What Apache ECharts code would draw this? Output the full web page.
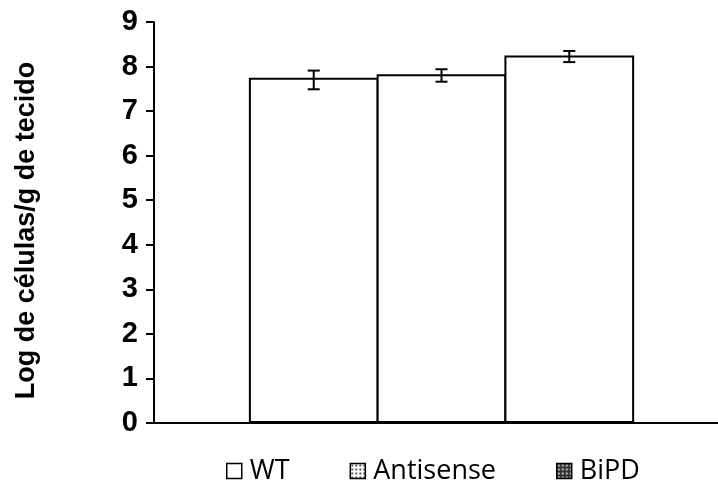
<!DOCTYPE html>
<html><head><meta charset="utf-8">
<script src="https://cdn.jsdelivr.net/npm/echarts@6/dist/echarts.min.js"></script>
<style>html,body{margin:0;padding:0;background:#fff}#c{width:718px;height:485px}</style>
</head><body><div id="c"></div>
<script>
const categories = ['Grupo'];
const seriesNames = ['WT', 'Antisense', 'BiPD'];
const values = [7.75, 7.83, 8.25];
const errLow = [7.49, 7.66, 8.10];
const errHigh = [7.91, 7.94, 8.35];
const yTicks = [0, 1, 2, 3, 4, 5, 6, 7, 8, 9];

function makePattern(bg, dot) {
  const c = document.createElement('canvas');
  c.width = 4; c.height = 4;
  const g = c.getContext('2d');
  g.fillStyle = bg; g.fillRect(0, 0, 4, 4);
  g.fillStyle = dot; g.fillRect(1, 1, 2, 2);
  return {image: c, repeat: 'repeat'};
}
const legendFills = ['#ffffff', makePattern('#ffffff', '#555555'), makePattern('#333333', '#bbbbbb')];

const CAT_GAP = 0.33, BAR_GAP = -0.015;
const chart = echarts.init(document.getElementById('c'));
const series = [];
seriesNames.forEach((n, i) => {
  series.push({
    name: n, type: 'bar', data: [values[i]],
    barCategoryGap: (CAT_GAP * 100) + '%', barGap: (BAR_GAP * 100) + '%',
    itemStyle: {color: '#ffffff', borderColor: '#000', borderWidth: 2},
    z: 2
  });
});
const errSeries = {
  type: 'custom',
  data: seriesNames.map((n, i) => [i, errLow[i], errHigh[i]]),
  renderItem: function (params, api) {
    const i = api.value(0);
    const lo = api.coord([0, api.value(1)]);
    const hi = api.coord([0, api.value(2)]);
    const band = api.size([1, 0])[0];
    const n = seriesNames.length;
    const w = band * (1 - CAT_GAP) / (n + (n - 1) * BAR_GAP);
    const x = lo[0] + (i - (n - 1) / 2) * w * (1 + BAR_GAP);
    const cap = 6;
    const st = {stroke: '#000', lineWidth: 2};
    return {type: 'group', children: [
      {type: 'line', shape: {x1: x, y1: hi[1], x2: x, y2: lo[1]}, style: st},
      {type: 'line', shape: {x1: x - cap, y1: hi[1], x2: x + cap, y2: hi[1]}, style: st},
      {type: 'line', shape: {x1: x - cap, y1: lo[1], x2: x + cap, y2: lo[1]}, style: st}
    ]};
  },
  z: 5
};
series.push(errSeries);

chart.setOption({
  animation: false,
  grid: {left: 154, width: 575, top: 22, bottom: 62, outerBoundsMode: 'none', containLabel: false},
  legend: {
    top: 457, left: 226, padding: 0, itemGap: 60, icon: 'rect', itemWidth: 15, itemHeight: 15,
    textStyle: {fontFamily: 'Open Sans', fontSize: 27, lineHeight: 28, color: '#000', padding: [0, 0, 0, 3]},
    data: seriesNames.map((n, i) => ({name: n, itemStyle: {color: legendFills[i], borderColor: '#000', borderWidth: 1.5}}))
  },
  xAxis: {
    type: 'category', data: categories,
    axisLine: {lineStyle: {color: '#000', width: 2}},
    axisTick: {show: false}, axisLabel: {show: false}
  },
  yAxis: {
    type: 'value', min: 0, max: 9, interval: 1,
    name: 'Log de células/g de tecido', nameLocation: 'middle', nameGap: 114,
    nameTextStyle: {fontFamily: 'Liberation Sans', fontWeight: 'bold', fontSize: 27, color: '#000', padding: [0, 16, 0, 0]},
    axisLine: {show: true, lineStyle: {color: '#000', width: 2}},
    axisTick: {show: true, inside: false, length: 8, lineStyle: {color: '#000', width: 2}},
    axisLabel: {fontFamily: 'Liberation Sans', fontWeight: 'bold', fontSize: 29, color: '#000', margin: 16,
      formatter: v => yTicks.includes(v) ? String(v) : ''},
    splitLine: {show: false}
  },
  series: series
});
</script></body></html>
